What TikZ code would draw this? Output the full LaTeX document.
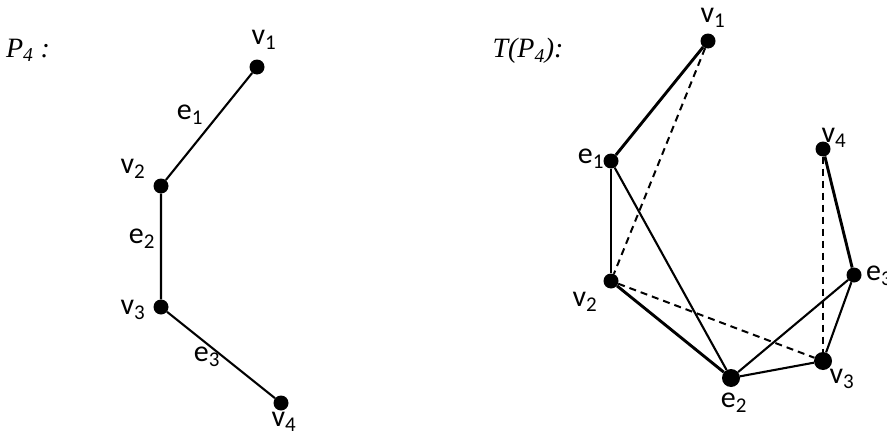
\documentclass[tikz,border=0pt]{standalone}
\usepackage{fontspec}
\setmainfont{Carlito}
\newfontfamily\titlefont{Liberation Serif}
\usetikzlibrary{positioning}

\begin{document}
\begin{tikzpicture}[
  x=1pt, y=-1pt,
  vtx/.style    = {circle, fill, inner sep=0pt, minimum size=15pt},
  bigvtx/.style = {vtx, minimum size=18pt},
  lbl/.style    = {font=\fontsize{30}{36}\selectfont, inner sep=0pt},
  ttl/.style    = {font=\titlefont\itshape\fontsize{28}{33}\selectfont, inner sep=0pt},
  edge/.style   = {line width=2.1pt},
  heavy/.style  = {line width=2.9pt},
  hidden/.style = {line width=2pt, dash pattern=on 7pt off 5pt},
]
  \useasboundingbox (0,0) rectangle (887,439);

  % path P4
  \node[ttl] (ttlP) at (28,50) {P\textsubscript{4} :};
  \node[vtx] (a1) at (257,67)  {};
  \node[vtx] (a2) at (161,186) {};
  \node[vtx] (a3) at (161,307) {};
  \node[vtx] (a4) at (281,403) {};

  \node[lbl] (la1) at (264,40)  {v\textsubscript{1}};
  \node[lbl] (la2) at (133,169) {v\textsubscript{2}};
  \node[lbl] (la3) at (133,310) {v\textsubscript{3}};
  \node[lbl] (la4) at (284,422) {v\textsubscript{4}};
  \node[lbl] (le1) at (190,115) {e\textsubscript{1}};
  \node[lbl] (le2) at (142,239) {e\textsubscript{2}};
  \node[lbl] (le3) at (207,357) {e\textsubscript{3}};

  \draw[edge] (a1) -- (a2) -- (a3) -- (a4);

  % total graph T(P4)
  \node[ttl] (ttlT) at (528,51) {T(P\textsubscript{4}):};
  \node[vtx]    (v1) at (708,41)  {};
  \node[vtx]    (e1) at (611,161) {};
  \node[vtx]    (v2) at (611,281) {};
  \node[bigvtx] (e2) at (731,378) {};
  \node[bigvtx] (v3) at (823,361) {};
  \node[vtx]    (v4) at (823,149) {};
  \node[vtx]    (e3) at (854,275) {};

  \node[lbl] (lv1) at (713,18)  {v\textsubscript{1}};
  \node[lbl] (le1) at (591,159) {e\textsubscript{1}};
  \node[lbl] (lv2) at (585,302) {v\textsubscript{2}};
  \node[lbl] (le2) at (734,403) {e\textsubscript{2}};
  \node[lbl] (lv3) at (842,379) {v\textsubscript{3}};
  \node[lbl] (lv4) at (834,138) {v\textsubscript{4}};
  \node[lbl, anchor=west] (le3) at (866,276) {e\textsubscript{3}};

  \draw[heavy] (v1) -- (e1);
  \draw[heavy] (v2) -- (e2);
  \draw[heavy] (v4) -- (e3);
  \draw[edge] (e1) -- (v2);
  \draw[edge] (e1) -- (e2);
  \draw[edge] (e2) -- (v3);
  \draw[edge] (e2) -- (e3);
  \draw[edge] (e3) -- (v3);
  \draw[hidden] (v1) -- (v2);
  \draw[hidden] (v2) -- (v3);
  \draw[hidden] (v4) -- (v3);
\end{tikzpicture}
\end{document}
